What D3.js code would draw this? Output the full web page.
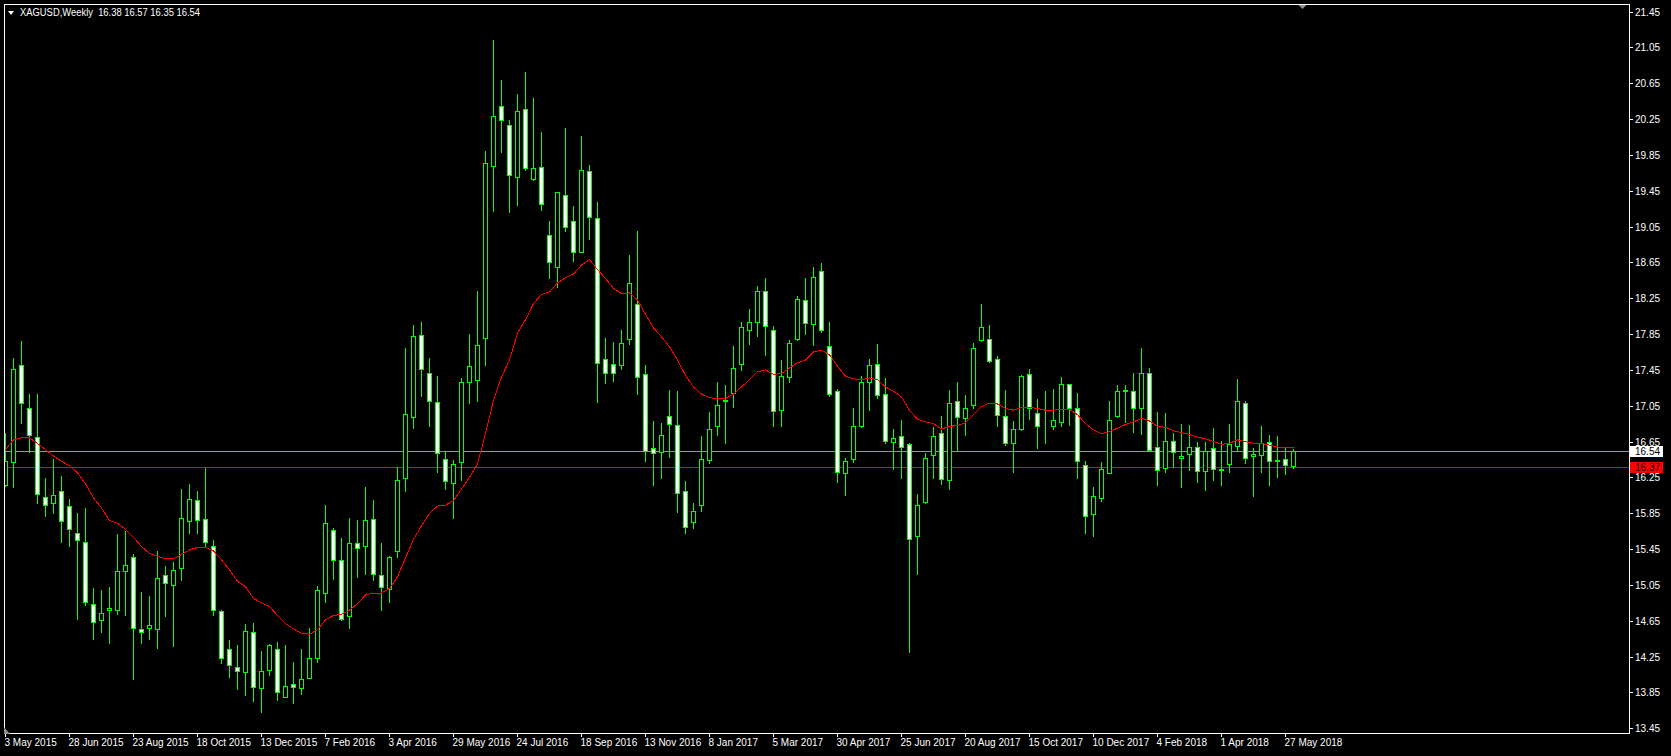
<!DOCTYPE html>
<html><head><meta charset="utf-8">
<script src="https://cdn.jsdelivr.net/npm/d3@7"></script>
<style>
html,body{margin:0;padding:0;background:#000;overflow:hidden}
svg{display:block}
text{font-family:"Liberation Sans",Arial,sans-serif;font-size:10px;fill:#fff}
</style></head><body>
<svg id="c" width="1671" height="756"></svg>
<script>
const title = "XAGUSD,Weekly";
const open  = [16.17,16.42,17.51,17.02,16.70,16.03,15.96,16.10,15.93,15.63,15.53,14.84,14.66,14.77,14.77,15.21,15.36,14.56,14.57,14.56,
15.16,15.05,15.24,15.76,16.00,15.79,15.49,14.76,14.33,14.13,14.08,14.52,13.90,14.10,14.34,13.80,13.94,13.90,14.01,14.23,
14.96,15.66,15.33,14.70,15.52,15.48,15.79,15.16,15.00,15.43,16.24,16.92,17.84,17.41,17.09,16.46,16.19,16.42,17.31,17.34,
17.81,19.73,20.39,20.18,19.60,20.36,19.58,19.71,18.96,18.60,19.40,19.11,18.77,19.67,19.15,17.57,17.52,17.50,17.80,18.19,
17.40,16.58,16.53,16.93,16.84,16.10,15.75,15.94,16.45,16.82,17.10,17.19,17.52,17.89,17.98,18.33,17.90,17.00,17.37,17.80,
18.23,17.96,18.55,17.72,17.21,16.30,16.46,16.82,17.32,17.52,17.18,16.65,16.71,16.62,15.60,15.98,16.50,16.75,16.22,17.10,
16.91,17.06,17.78,17.80,17.57,16.93,16.63,16.79,17.40,16.97,16.82,16.82,16.87,17.29,17.02,16.39,15.84,16.02,16.30,16.94,
17.22,17.21,17.03,17.41,16.59,16.35,16.66,16.47,16.51,16.59,16.32,16.58,16.33,16.40,16.60,17.08,16.49,16.50,16.64,16.43,
16.46,16.38];
const high  = [16.75,17.58,17.77,17.18,17.18,16.24,16.46,16.27,16.01,15.85,15.91,15.02,14.99,15.03,15.62,15.65,15.40,14.97,14.93,15.43,
15.26,15.31,16.12,16.18,16.10,16.35,15.55,14.77,14.44,14.38,14.61,14.63,14.31,14.39,14.41,14.38,14.19,14.33,14.57,15.04,
15.94,15.69,15.57,15.80,15.78,16.14,16.00,15.52,15.37,16.37,17.70,17.95,17.99,17.58,17.38,16.55,16.44,17.36,17.85,18.33,
19.89,21.13,20.68,20.24,20.53,20.77,20.48,20.10,19.11,19.44,20.15,19.28,20.06,19.74,19.32,17.81,17.76,17.89,18.73,19.00,
17.51,16.88,16.86,17.23,17.22,16.21,15.96,16.71,16.98,17.32,17.28,17.72,17.99,18.13,18.39,18.48,17.94,17.56,17.78,18.28,
18.48,18.60,18.64,17.99,17.24,16.47,17.02,17.38,17.57,17.74,17.36,16.79,16.89,16.63,16.06,16.52,16.81,16.93,17.23,17.31,
17.17,17.75,18.19,17.95,17.61,17.23,16.88,17.39,17.46,17.13,17.22,17.24,17.37,17.29,17.19,16.43,16.14,16.42,17.10,17.28,
17.28,17.41,17.70,17.47,16.98,16.97,16.75,16.85,16.84,16.64,16.65,16.80,16.66,16.85,17.35,17.10,16.58,16.82,16.72,16.71,
16.59,16.57];
const low   = [16.15,16.14,16.86,16.53,15.96,15.82,15.85,15.53,15.48,14.67,14.83,14.45,14.53,14.40,14.73,14.72,14.00,14.40,14.45,14.35,
14.70,14.37,15.11,15.63,15.63,15.48,14.71,14.18,14.02,13.89,13.82,13.75,13.63,14.04,13.77,13.80,13.73,13.83,14.01,14.19,
14.86,15.12,14.66,14.57,15.14,15.17,15.10,14.77,14.86,15.36,16.10,16.80,17.16,16.82,16.31,16.12,15.80,16.22,17.08,17.10,
17.51,19.22,19.88,19.21,19.29,19.68,19.57,19.23,18.48,18.38,19.00,18.66,18.77,18.91,17.09,17.30,17.33,17.46,17.74,17.18,
16.43,16.16,16.24,16.48,15.86,15.63,15.69,15.88,16.41,16.72,16.63,17.04,17.45,17.74,17.83,17.62,16.82,16.82,17.31,17.78,
17.85,17.73,17.87,17.16,16.20,16.05,16.42,16.81,17.00,17.14,16.63,16.34,16.24,14.30,15.17,15.96,16.24,16.18,16.12,16.56,
16.72,17.02,17.77,17.54,16.82,16.61,16.31,16.78,16.90,16.58,16.63,16.79,16.82,16.83,16.24,15.63,15.60,15.99,16.30,16.92,
16.87,16.76,16.73,16.54,16.17,16.31,16.37,16.14,16.33,16.20,16.11,16.22,16.17,16.31,16.54,16.41,16.04,16.31,16.17,16.25,
16.29,16.35];
const close = [16.43,17.46,17.08,16.72,16.07,15.94,16.05,15.76,15.67,15.55,14.86,14.64,14.74,14.79,15.21,15.27,14.57,14.53,14.60,15.13,
15.07,15.22,15.80,16.01,15.78,15.53,14.77,14.24,14.16,14.09,14.54,13.91,14.09,14.38,13.86,13.92,13.91,14.00,14.24,14.99,
15.74,15.33,14.67,15.52,15.46,15.78,15.17,15.03,15.36,16.22,16.96,17.83,17.46,17.10,16.52,16.21,16.40,17.31,17.49,17.73,
19.76,20.28,20.24,19.62,20.34,19.70,19.70,19.30,18.65,19.44,19.04,18.77,19.68,19.16,17.53,17.41,17.41,17.75,18.42,17.37,
16.54,16.52,16.72,16.85,16.08,15.70,15.88,16.46,16.79,17.06,17.11,17.47,17.93,17.99,18.33,17.94,16.99,17.38,17.75,18.24,
17.97,18.49,17.89,17.18,16.31,16.43,16.82,17.31,17.50,17.17,16.66,16.69,16.59,15.56,15.94,16.47,16.71,16.23,17.08,16.92,
17.02,17.69,17.93,17.55,16.95,16.63,16.79,17.38,17.03,16.82,16.82,16.89,17.29,17.02,16.43,15.82,16.04,16.34,16.89,17.21,
17.23,17.02,17.41,16.56,16.33,16.66,16.53,16.49,16.59,16.32,16.55,16.34,16.34,16.62,17.10,16.47,16.51,16.63,16.43,16.45,
16.39,16.54];
const maValues = [16.56,16.67,16.69,16.69,16.63,16.56,16.49,16.43,16.38,16.30,16.18,16.02,15.91,15.77,15.74,15.67,15.58,15.48,15.40,15.37,
15.34,15.34,15.39,15.44,15.47,15.47,15.43,15.33,15.22,15.09,15.03,14.90,14.85,14.81,14.71,14.62,14.56,14.51,14.50,14.55,
14.66,14.71,14.72,14.77,14.84,14.94,14.96,14.96,15.01,15.14,15.35,15.56,15.71,15.85,15.93,15.94,15.99,16.12,16.25,16.40,
16.74,17.11,17.37,17.56,17.86,18.01,18.19,18.29,18.32,18.42,18.48,18.52,18.62,18.68,18.57,18.47,18.36,18.30,18.31,18.23,
18.07,17.92,17.82,17.71,17.56,17.39,17.26,17.18,17.14,17.13,17.13,17.18,17.26,17.34,17.43,17.45,17.40,17.41,17.47,17.53,
17.56,17.65,17.67,17.62,17.49,17.38,17.35,17.34,17.36,17.34,17.26,17.21,17.15,17.00,16.90,16.87,16.85,16.79,16.82,16.83,
16.86,16.95,17.04,17.08,17.07,17.02,17.00,17.03,17.03,17.02,17.00,17.00,17.01,17.01,16.95,16.85,16.78,16.74,16.76,16.80,
16.84,16.87,16.91,16.88,16.82,16.81,16.77,16.75,16.73,16.70,16.68,16.65,16.62,16.63,16.67,16.65,16.63,16.63,16.61,16.59,
16.58,16.58];
const priceTicks = [21.45,21.05,20.65,20.25,19.85,19.45,19.05,18.65,18.25,17.85,17.45,17.05,16.65,16.25,15.85,15.45,15.05,14.65,14.25,13.85,13.45];
const dateTicks = ["3 May 2015","28 Jun 2015","23 Aug 2015","18 Oct 2015","13 Dec 2015","7 Feb 2016","3 Apr 2016","29 May 2016","24 Jul 2016","18 Sep 2016","13 Nov 2016","8 Jan 2017","5 Mar 2017","30 Apr 2017","25 Jun 2017","20 Aug 2017","15 Oct 2017","10 Dec 2017","4 Feb 2018","1 Apr 2018","27 May 2018"];
const dateTickEvery = 8;
const bidPrice = 16.54;
const hLinePrice = 16.37;

const svg = d3.select("#c");
const plot = {left:4, right:1629, top:4, bottom:733};
const n = open.length;
const x = d3.scaleLinear().domain([0, n-1]).range([5.5, 5.5 + 8*(n-1)]);
const y = d3.scaleLinear().domain([13.45, 21.45]).range([728.3, 11.5]);
const ry = v => Math.round(y(v));
const GREEN = "#00ff00";

svg.append("rect").attr("width",1671).attr("height",756).attr("fill","#000");
svg.append("defs").append("clipPath").attr("id","clip").append("rect")
  .attr("x",plot.left+1).attr("y",plot.top+1).attr("width",plot.right-plot.left-1).attr("height",plot.bottom-plot.top-1);

const g = svg.append("g").attr("clip-path","url(#clip)");
// horizontal lines
g.append("line").attr("x1",plot.left).attr("x2",plot.right).attr("y1",ry(bidPrice)+0.5).attr("y2",ry(bidPrice)+0.5)
  .attr("stroke","#8a97a5").attr("shape-rendering","crispEdges");
g.append("line").attr("x1",plot.left).attr("x2",plot.right).attr("y1",ry(hLinePrice)+0.5).attr("y2",ry(hLinePrice)+0.5)
  .attr("stroke","#ff0000").attr("shape-rendering","crispEdges");

const bars = open.map((o,i)=>({i, o, h:high[i], l:low[i], c:close[i]}));
g.selectAll("line.wick").data(bars).join("line").attr("class","wick")
  .attr("x1",d=>x(d.i)).attr("x2",d=>x(d.i))
  .attr("y1",d=>ry(d.h)).attr("y2",d=>ry(d.l)+1)
  .attr("stroke",GREEN).attr("shape-rendering","crispEdges");
g.selectAll("rect.body").data(bars).join("rect").attr("class","body")
  .attr("x",d=>x(d.i)-2).attr("width",4)
  .attr("y",d=>ry(Math.max(d.o,d.c))+0.5)
  .attr("height",d=>Math.max(0, ry(Math.min(d.o,d.c)) - ry(Math.max(d.o,d.c))))
  .attr("fill",d=>d.c<d.o?"#ffffff":"#000000")
  .attr("stroke",GREEN).attr("shape-rendering","crispEdges");

// moving average
g.append("path").datum(maValues)
  .attr("d", d3.line().x((v,i)=>x(i)).y(v=>y(v)))
  .attr("fill","none").attr("stroke","#ff0000").attr("stroke-width",1).attr("shape-rendering","crispEdges");

// frame
svg.append("rect").attr("x",plot.left+0.5).attr("y",plot.top+0.5)
  .attr("width",plot.right-plot.left).attr("height",plot.bottom-plot.top)
  .attr("fill","none").attr("stroke","#ffffff").attr("shape-rendering","crispEdges");

// price axis
const pa = svg.append("g");
priceTicks.forEach(p=>{
  const yy = ry(p)+0.5;
  pa.append("line").attr("x1",plot.right+1).attr("x2",plot.right+4).attr("y1",yy).attr("y2",yy)
    .attr("stroke","#fff").attr("shape-rendering","crispEdges");
  pa.append("text").attr("x",1635).attr("y",yy).attr("dy","0.35em").text(p.toFixed(2));
});
[[bidPrice,"#ffffff","#000000"],[hLinePrice,"#ff0000","#000000"]].forEach(([p,bg,fg])=>{
  const yy = ry(p);
  pa.append("rect").attr("x",plot.right+1).attr("y",yy-5).attr("width",33).attr("height",11).attr("fill",bg);
  pa.append("text").attr("x",1635).attr("y",yy+0.5).attr("dy","0.35em").style("fill",fg).text(p.toFixed(2));
});

// time axis
const ta = svg.append("g");
dateTicks.forEach((t,k)=>{
  const xx = Math.round(x(k*dateTickEvery)-0.5)+0.5;
  ta.append("line").attr("x1",xx).attr("x2",xx).attr("y1",plot.bottom).attr("y2",plot.bottom+4)
    .attr("stroke","#fff").attr("shape-rendering","crispEdges");
  ta.append("text").attr("x",xx-1).attr("y",746).text(t);
});
ta.append("path").attr("d","M4,727L4,734L10,734Z").attr("fill","#909090");

// shift marker
svg.append("path").attr("d",`M${x(n-1)+5},5L${x(n-1)+13},5L${x(n-1)+9},9Z`).attr("fill","#909090");

// header
svg.append("path").attr("d","M8,11L14,11L11,15Z").attr("fill","#fff");
svg.append("text").attr("x",20).attr("y",15.5)
  .attr("xml:space","preserve").style("white-space","pre")
  .attr("textLength",180).attr("lengthAdjust","spacingAndGlyphs")
  .text(`${title}  ${open[n-1].toFixed(2)} ${high[n-1].toFixed(2)} ${low[n-1].toFixed(2)} ${close[n-1].toFixed(2)}`);
</script>
</body></html>
